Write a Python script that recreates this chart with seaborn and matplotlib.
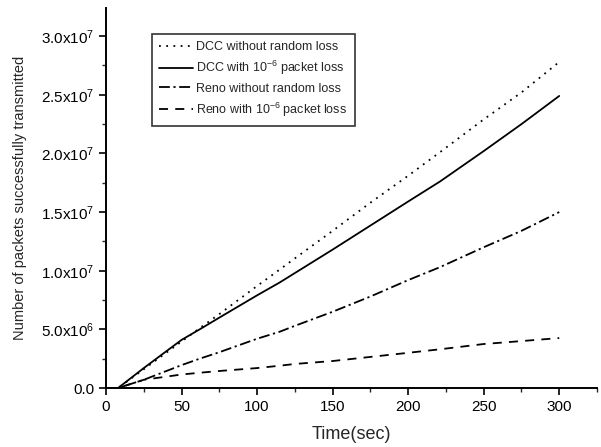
import numpy as np
import pandas as pd
import matplotlib
matplotlib.use("Agg")
import matplotlib.pyplot as plt
import seaborn as sns
from matplotlib.ticker import MultipleLocator, FixedLocator, FixedFormatter

# ---- data ----
time_s = [0, 8, 25, 50, 62, 75, 100, 115, 125, 150, 175, 200, 221, 250, 275, 300]
dcc_no_loss = [0, 0, 1.6e6, 3.96e6, 5.1e6, 6.3e6, 8.7e6, 10.1e6, 11.05e6, 13.4e6, 15.8e6, 18.1e6, 20.1e6, 22.9e6, 25.2e6, 27.8e6]
dcc_loss = [0, 0, 1.7e6, 4.1e6, 5.0e6, 6.0e6, 7.9e6, 9.0e6, 9.8e6, 11.8e6, 13.85e6, 15.9e6, 17.6e6, 20.2e6, 22.5e6, 24.9e6]
reno_no_loss = [0, 0, 0.7e6, 1.95e6, 2.5e6, 3.05e6, 4.2e6, 4.8e6, 5.3e6, 6.5e6, 7.8e6, 9.2e6, 10.3e6, 12.0e6, 13.4e6, 15.0e6]
reno_loss = [0, 0, 0.7e6, 1.15e6, 1.3e6, 1.45e6, 1.7e6, 1.9e6, 2.05e6, 2.3e6, 2.65e6, 3.0e6, 3.3e6, 3.75e6, 4.0e6, 4.26e6]

series_names = [
    "DCC without random loss",
    r"DCC with 10$^{-6}$ packet loss",
    "Reno without random loss",
    r"Reno with 10$^{-6}$ packet loss",
]
ytick_vals = [0, 5e6, 1e7, 1.5e7, 2e7, 2.5e7, 3e7]
ytick_labels = ["0.0", r"5.0x10$^{6}$", r"1.0x10$^{7}$", r"1.5x10$^{7}$",
                r"2.0x10$^{7}$", r"2.5x10$^{7}$", r"3.0x10$^{7}$"]
xtick_vals = [0, 50, 100, 150, 200, 250, 300]

frames = []
for name, vals in zip(series_names, [dcc_no_loss, dcc_loss, reno_no_loss, reno_loss]):
    frames.append(pd.DataFrame({"t": time_s, "n": vals, "series": name}))
df = pd.concat(frames, ignore_index=True)

sns.set_theme(style="ticks")
plt.rcParams["font.family"] = ["Liberation Sans", "DejaVu Sans"]
plt.rcParams["mathtext.fontset"] = "custom"
plt.rcParams["mathtext.rm"] = "Liberation Sans"
plt.rcParams["mathtext.it"] = "Liberation Sans"
plt.rcParams["mathtext.default"] = "regular"

fig = plt.figure(figsize=(6.01, 4.47), dpi=100)
ax = fig.add_axes([106 / 601, 1 - 388 / 447, 491 / 601, 380 / 447])

dashes = {
    series_names[0]: (1, 3),
    series_names[1]: "",
    series_names[2]: (6, 2, 1.2, 2),
    series_names[3]: (5, 4),
}
palette = {n: "black" for n in series_names}
sns.lineplot(data=df, x="t", y="n", hue="series", style="series",
             hue_order=series_names, style_order=series_names,
             palette=palette, dashes=dashes, linewidth=1.3, ax=ax)

ax.set_xlim(0, 325)
ax.set_ylim(0, 3.24e7)
ax.xaxis.set_major_locator(FixedLocator(xtick_vals))
ax.xaxis.set_minor_locator(MultipleLocator(25))
ax.yaxis.set_major_locator(FixedLocator(ytick_vals))
ax.yaxis.set_major_formatter(FixedFormatter(ytick_labels))
ax.yaxis.set_minor_locator(MultipleLocator(2.5e6))

for s in ["top", "right"]:
    ax.spines[s].set_visible(False)
for s in ["left", "bottom"]:
    ax.spines[s].set_linewidth(1.4)
    ax.spines[s].set_color("black")

ax.tick_params(axis="both", which="major", direction="out", length=5, width=1.2,
               labelsize=11, colors="black")
ax.tick_params(axis="both", which="minor", direction="out", length=3, width=1.0)

ax.set_xlabel("Time(sec)", fontsize=13, labelpad=9)
ax.set_ylabel("Number of packets successfully transmitted", fontsize=10.5, labelpad=10)

leg = ax.legend(loc="upper left", bbox_to_anchor=(0.093, 0.932), borderaxespad=0,
                fontsize=9, frameon=True, fancybox=False, handlelength=2.7,
                handletextpad=0.25, labelspacing=0.45, borderpad=0.6, title=None)
leg.get_frame().set_edgecolor("black")
leg.get_frame().set_linewidth(1.2)

fig.savefig("out.png", dpi=100)
